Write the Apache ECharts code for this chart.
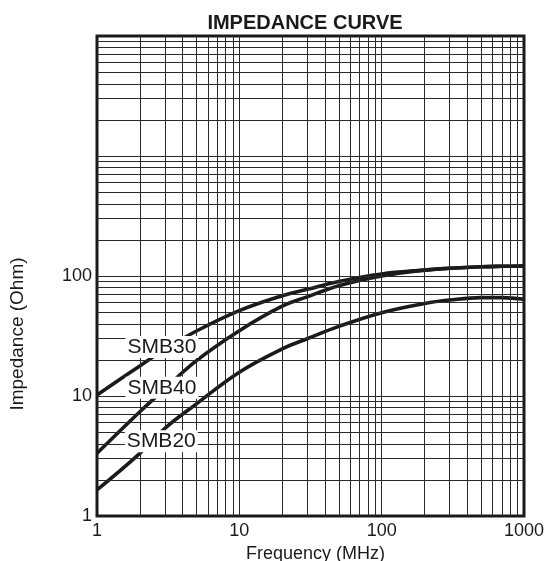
<!DOCTYPE html>
<html>
<head>
<meta charset="utf-8">
<script src="https://cdn.jsdelivr.net/npm/echarts@6/dist/echarts.min.js"></script>
<style>
html,body{margin:0;padding:0;background:#fff;}
#c{width:548px;height:561px;}
</style>
</head>
<body>
<div id="c"></div>
<script>
// Frequency (MHz)
var freq = [1, 2, 3, 5, 10, 20, 30, 50, 100, 200, 300, 500, 700, 1000];
// Impedance (Ohm)
var smb30 = [10.2, 17.8, 24.5, 34.8, 51.5, 68.5, 77.4, 90, 104, 112, 116, 119.5, 120.5, 121];
var smb40 = [3.33, 7.4, 11.5, 19.7, 35, 56, 67, 83, 100, 112, 116, 119.5, 120.5, 121];
var smb20 = [1.65, 3.33, 5.38, 8.6, 15.8, 24.7, 30, 38, 49.5, 59, 63, 66, 66, 64];
// curve label anchor points (data coordinates)
var labelNames = ['SMB30', 'SMB40', 'SMB20'];
var labelFreq = [2.86, 2.86, 2.83];
var labelImp = [25.6, 11.7, 4.2];
// grid values
var xGrid = [2,3,4,5,6,7,8,9,10,20,30,40,50,60,70,80,90,100,200,300,400,500,600,700,800,900];
var yGrid = [2,3,4,5,6,7,8,9,10,20,30,40,50,60,70,80,90,100,200,300,400,500,600,700,800,900,1000,2000,3000,4000,5000,6000,7000,8000,9000];
var xTicks = [1, 10, 100, 1000];
var yTicks = [1, 10, 100];

function pairs(vals){ return freq.map(function(f,i){ return [f, vals[i]]; }); }

var chart = echarts.init(document.getElementById('c'), null, {renderer:'canvas'});
var FONT = 'Liberation Sans, Arial, sans-serif';
var curveStyle = {color:'#1a1a1a', width:3.6};

var gridMarks = xGrid.map(function(v){ return {xAxis: v}; })
  .concat(yGrid.map(function(v){ return {yAxis: v}; }));

var labelPoints = labelNames.map(function(n,i){
  return {coord:[labelFreq[i], labelImp[i]], value:n, name:n};
});

chart.setOption({
  animation:false,
  title:{
    text:'IMPEDANCE CURVE', left:300, top:8, textAlign:'center',
    textStyle:{fontFamily:FONT, fontSize:20, fontWeight:'bold', color:'#1a1a1a'}
  },
  grid:{left:97, right:24, top:36, bottom:45, show:true, borderColor:'#1a1a1a', borderWidth:3, z:5,
        outerBoundsMode:'none', containLabel:false},
  xAxis:{
    type:'log', logBase:10, min:1, max:1000,
    name:'Frequency (MHz)', nameLocation:'middle', nameGap:25,
    nameTextStyle:{fontFamily:FONT, fontSize:18, color:'#1a1a1a', padding:[0,0,0,10]},
    axisLine:{show:false}, axisTick:{show:false}, splitLine:{show:false},
    axisLabel:{fontFamily:FONT, fontSize:18, color:'#1a1a1a', margin:6,
      formatter:function(v){ return xTicks.indexOf(Math.round(v))>=0 ? String(Math.round(v)) : ''; }}
  },
  yAxis:{
    type:'log', logBase:10, min:1, max:10000,
    axisLine:{show:false}, axisTick:{show:false}, splitLine:{show:false},
    axisLabel:{fontFamily:FONT, fontSize:18, color:'#1a1a1a', margin:5, verticalAlign:'middle',
      formatter:function(v){ return yTicks.indexOf(Math.round(v))>=0 ? String(Math.round(v)) : ''; }}
  },
  graphic:[{
    type:'text', x:18, y:334, rotation:Math.PI/2,
    style:{text:'Impedance (Ohm)', fontFamily:FONT, fontSize:19, fill:'#1a1a1a', align:'center', verticalAlign:'middle'}
  }],
  series:[
    {type:'line', data:[], z:1, silent:true,
     markLine:{silent:true, symbol:['none','none'], animation:false, label:{show:false},
       lineStyle:{color:'#2a2a2a', width:1, type:'solid'}, emphasis:{disabled:true}, data:gridMarks}},
    {name:'SMB30', type:'line', data:pairs(smb30), smooth:0.4, showSymbol:false, lineStyle:curveStyle, z:3},
    {name:'SMB40', type:'line', data:pairs(smb40), smooth:0.4, showSymbol:false, lineStyle:curveStyle, z:3},
    {name:'SMB20', type:'line', data:pairs(smb20), smooth:0.4, showSymbol:false, lineStyle:curveStyle, z:3,
     markPoint:{symbol:'rect', symbolSize:1, itemStyle:{color:'rgba(0,0,0,0)'}, z:10, silent:true,
       label:{show:true, position:'inside', formatter:'{b}', fontFamily:FONT, fontSize:21, color:'#1a1a1a',
         backgroundColor:'#ffffff', padding:[1,2,0,2]},
       data:labelPoints}}
  ]
});
</script>
</body>
</html>
